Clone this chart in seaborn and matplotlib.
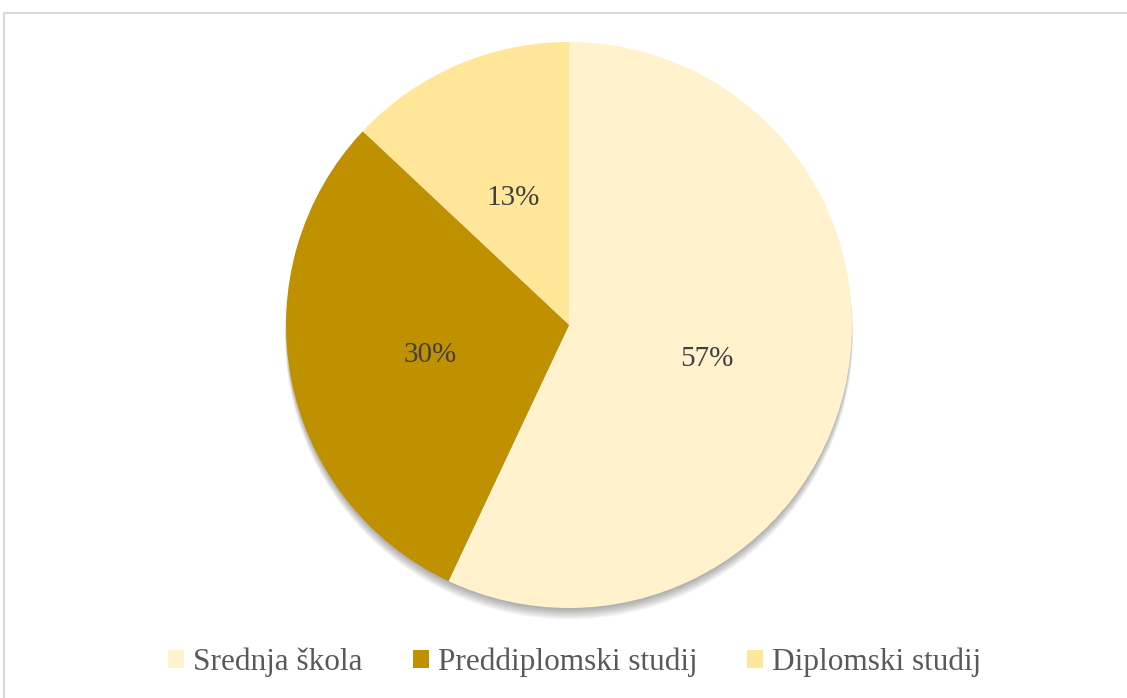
import matplotlib
matplotlib.use("Agg")
import matplotlib.pyplot as plt
import matplotlib.patches as mpatches
import seaborn as sns

# chart data
categories = ["Srednja škola", "Preddiplomski studij", "Diplomski studij"]
shares = [57, 30, 13]
colors = ["#FFF2CC", "#BF9000", "#FFE699"]

sns.set_theme(style="white")
plt.rcParams["font.family"] = ["Liberation Serif", "DejaVu Serif"]

W, H = 1127, 698
fig = plt.figure(figsize=(W / 100, H / 100), dpi=100)

# light grey chart frame (right/bottom run off the picture)
fig.patches.append(mpatches.Rectangle(
    (4 / W, -0.01), 1.02, (H - 13) / H + 0.01, transform=fig.transFigure,
    fill=False, edgecolor="#D9D9D9", linewidth=1.5, zorder=0))

cx, cy, r = 569, 325, 283
ax = fig.add_axes([(cx - r) / W, (H - cy - r) / H, 2 * r / W, 2 * r / H])

# soft shadow under the pie, mostly below it
for i in range(10):
    ax.add_patch(mpatches.Circle((0.0, -0.004 * i), 0.995 + 0.001 * i,
                                 color="black", alpha=0.045, lw=0, zorder=0,
                                 clip_on=False))

wedges, texts = ax.pie(
    shares, colors=colors, startangle=90, counterclock=False,
    labels=[f"{v}%" for v in shares], labeldistance=0.5,
    textprops=dict(fontsize=21, color="#404040"),
    wedgeprops=dict(linewidth=0), radius=1.0)
for t in texts:
    t.set_horizontalalignment("center")
    t.set_verticalalignment("center_baseline")

ax.set_xlim(-1.0, 1.0)
ax.set_ylim(-1.0, 1.0)
ax.set_aspect("equal")
ax.axis("off")

leg = fig.legend(wedges, categories, loc="center", ncol=3,
                 bbox_to_anchor=(575 / W, 1 - 662 / H), frameon=False,
                 fontsize=22.5, handlelength=0.5, handleheight=0.5,
                 handletextpad=0.3, columnspacing=1.6)
for t in leg.get_texts():
    t.set_color("#595959")

fig.savefig("out.png", dpi=100)
